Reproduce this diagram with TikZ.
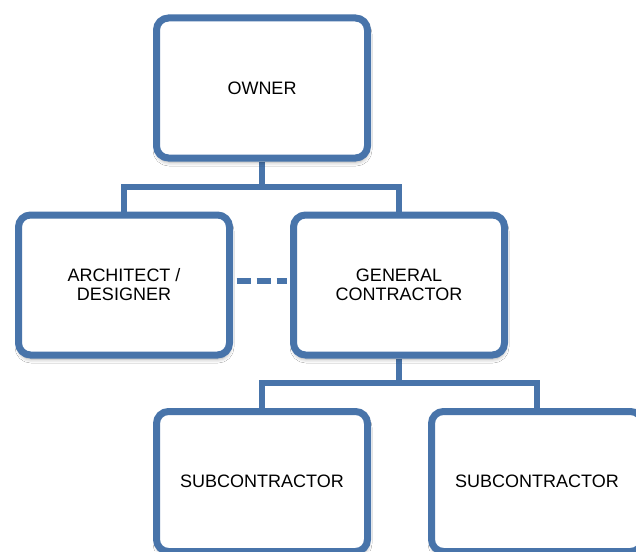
\documentclass[tikz,border=0pt]{standalone}
\usepackage{fontspec}
\setmainfont{Liberation Sans}
\usetikzlibrary{shadows.blur,backgrounds}
\definecolor{boxblue}{RGB}{72,116,170}
\tikzset{
  orgbox/.style={draw=boxblue, line width=7pt, fill=white, rounded corners=12pt,
    minimum width=211pt, minimum height=140pt, align=center,
    font=\fontsize{18}{19}\selectfont,
    blur shadow={shadow xshift=0.5pt, shadow yshift=-4pt, shadow blur radius=4pt, shadow opacity=35}},
  conn/.style={draw=boxblue, line width=5.5pt},
  dashconn/.style={draw=boxblue, line width=6.5pt, dash pattern=on 14pt off 6pt}
}
\begin{document}
\begin{tikzpicture}[x=1pt,y=-1pt]
\clip (0,0) rectangle (636,551);
\node[orgbox] (owner) at (262,88) {OWNER};
\node[orgbox] (arch) at (124,285) {ARCHITECT /\\DESIGNER};
\node[orgbox] (gc) at (399,285) {GENERAL\\CONTRACTOR};
\node[orgbox] (sub1) at (262,481.5) {SUBCONTRACTOR};
\node[orgbox] (sub2) at (537,481.5) {SUBCONTRACTOR};
\coordinate (j1) at (262,187);
\coordinate (j2) at (399,383);
\begin{scope}[on background layer]
\fill[white] (0,0) rectangle (636,551);
\draw[conn] (arch.north) |- (j1) -| (gc.north);
\draw[conn] (owner.south) -- (j1);
\draw[conn] (sub1.north) |- (j2) -| (sub2.north);
\draw[conn] (gc.south) -- (j2);
\end{scope}
\draw[dashconn] ([xshift=3.5pt,yshift=4pt]arch.east) -- ([xshift=-3.5pt,yshift=4pt]gc.west);
\end{tikzpicture}
\end{document}
